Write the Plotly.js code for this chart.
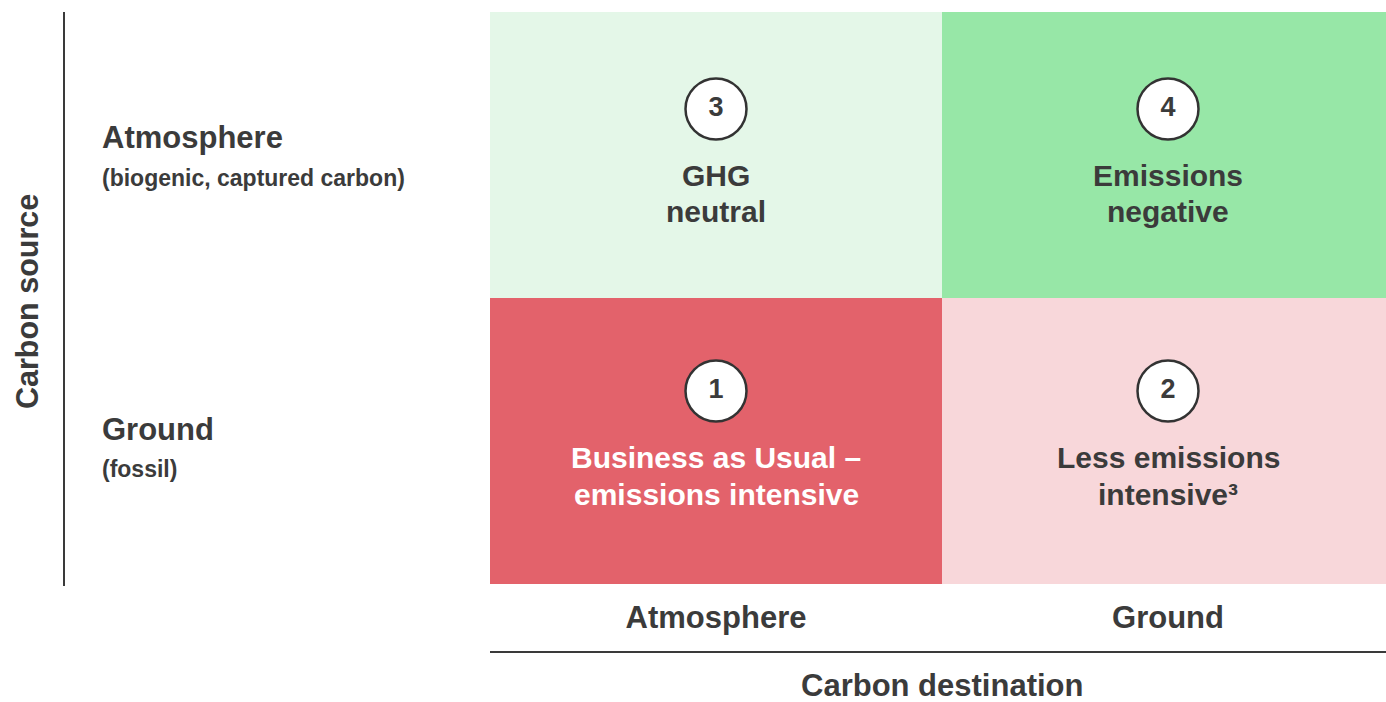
<!DOCTYPE html>
<html>
<head>
<meta charset="utf-8">
<script src="https://cdn.plot.ly/plotly-3.0.1.min.js"></script>
<style>
html,body{margin:0;padding:0;background:#fff;overflow:hidden;width:1386px;height:702px;}
#chart{width:1394px;height:702px;}
</style>
</head>
<body>
<div id="chart"></div>
<script>
// Data
const destinations = ['Atmosphere', 'Ground'];            // x categories (carbon destination)
const sources = ['Ground', 'Atmosphere'];                 // y categories, bottom to top (carbon source)
const sourceNotes = ['(fossil)', '(biogenic, captured carbon)'];
const cellNumbers = [[1, 2], [3, 4]];                     // rows follow `sources`
const cellLabels = [
  [['Business as Usual –', 'emissions intensive'], ['Less emissions', 'intensive³']],
  [['GHG', 'neutral'], ['Emissions', 'negative']]
];
const xTitle = 'Carbon destination';
const yTitle = 'Carbon source';

// Styles
const FONT = '"Liberation Sans", Arial, Helvetica, sans-serif';
const TXT = '#3b3b3b';
const cellColors = ['#e3626b', '#f8d7da', '#e4f7e8', '#97e7a7']; // for numbers 1..4
const W = 1394, H = 702, ML = 490, MR = 0, MT = 12, MB = 118;
const PW = W - ML - MR, PH = H - MT - MB;
const px2paperX = p => (p - ML) / PW;
const px2paperY = p => (H - MB - p) / PH;

const centers = destinations.map((_, i) => i + 0.5);
const rowCenters = sources.map((_, i) => i + 0.5);

const heat = {
  type: 'heatmap',
  x: centers, y: rowCenters, z: cellNumbers,
  zmin: 1, zmax: 4,
  colorscale: cellColors.map((c, i) => [i / (cellColors.length - 1), c]),
  showscale: false, hoverinfo: 'skip', xgap: 0, ygap: 0
};

// circles with numbers
const cx = [], cy = [], ct = [];
const circleOffsetPx = [50, 46]; // px above row centre (bottom row, top row)
sources.forEach((s, r) => destinations.forEach((d, c) => {
  cx.push(centers[c]); cy.push(rowCenters[r] + circleOffsetPx[r] * sources.length / PH); ct.push(String(cellNumbers[r][c]));
}));
const circles = {
  type: 'scatter', mode: 'markers+text', x: cx, y: cy, text: ct,
  textposition: 'middle center',
  textfont: {family: FONT, size: 27, color: TXT, weight: 700},
  marker: {size: 61, color: '#ffffff', line: {color: '#333333', width: 2.5}},
  hoverinfo: 'skip', cliponaxis: false
};

const annotations = [];
const lineShift = [[-16, -53], [-20, -56]]; // px below row centre for each text line (bottom row, top row)
sources.forEach((s, r) => destinations.forEach((d, c) => {
  cellLabels[r][c].forEach((line, k) => {
    annotations.push({
      xref: 'x', yref: 'y', x: centers[c], y: rowCenters[r], yshift: lineShift[r][k],
      text: line, showarrow: false, align: 'center',
      font: {family: FONT, size: 30, color: cellNumbers[r][c] === 1 ? '#ffffff' : TXT, weight: 700}
    });
  });
}));
// row labels
const mainShift = [12, 18], noteShift = [-28, -23];
sources.forEach((s, r) => {
  annotations.push({xref: 'paper', yref: 'y', x: px2paperX(100), xanchor: 'left', y: rowCenters[r], yshift: mainShift[r],
    text: s, showarrow: false, font: {family: FONT, size: 31, color: TXT, weight: 700}});
  annotations.push({xref: 'paper', yref: 'y', x: px2paperX(100), xanchor: 'left', y: rowCenters[r], yshift: noteShift[r],
    text: sourceNotes[r], showarrow: false, font: {family: FONT, size: 23, color: TXT, weight: 700}});
});
// axis titles
annotations.push({xref: 'paper', yref: 'paper', x: 0.5, y: px2paperY(685), xanchor: 'center', yanchor: 'middle',
  text: xTitle, showarrow: false, font: {family: FONT, size: 31, color: TXT, weight: 700}});
annotations.push({xref: 'paper', yref: 'paper', x: px2paperX(27), y: px2paperY(302), xanchor: 'center', yanchor: 'middle',
  text: yTitle, textangle: -90, showarrow: false, font: {family: FONT, size: 30.5, color: TXT, weight: 700}});

const layout = {
  width: W, height: H,
  margin: {l: ML, r: MR, t: MT, b: MB},
  paper_bgcolor: '#ffffff', plot_bgcolor: '#ffffff',
  showlegend: false,
  xaxis: {range: [0, destinations.length], tickvals: centers, ticktext: destinations,
    showgrid: false, zeroline: false, showline: false, ticks: '', ticklabelstandoff: 12,
    tickfont: {family: FONT, size: 31, color: TXT, weight: 700}, fixedrange: true},
  yaxis: {range: [0, sources.length], showticklabels: false, showgrid: false, zeroline: false,
    showline: false, ticks: '', fixedrange: true},
  shapes: [
    {type: 'line', xref: 'paper', yref: 'paper', x0: px2paperX(64), x1: px2paperX(64), y0: px2paperY(586), y1: 1,
      line: {color: '#3a3a3a', width: 2}},
    {type: 'line', xref: 'paper', yref: 'paper', x0: 0, x1: 1, y0: px2paperY(652), y1: px2paperY(652),
      line: {color: '#3a3a3a', width: 2}}
  ],
  annotations: annotations
};

Plotly.newPlot('chart', [heat, circles], layout, {displayModeBar: false, staticPlot: true});
</script>
</body>
</html>
